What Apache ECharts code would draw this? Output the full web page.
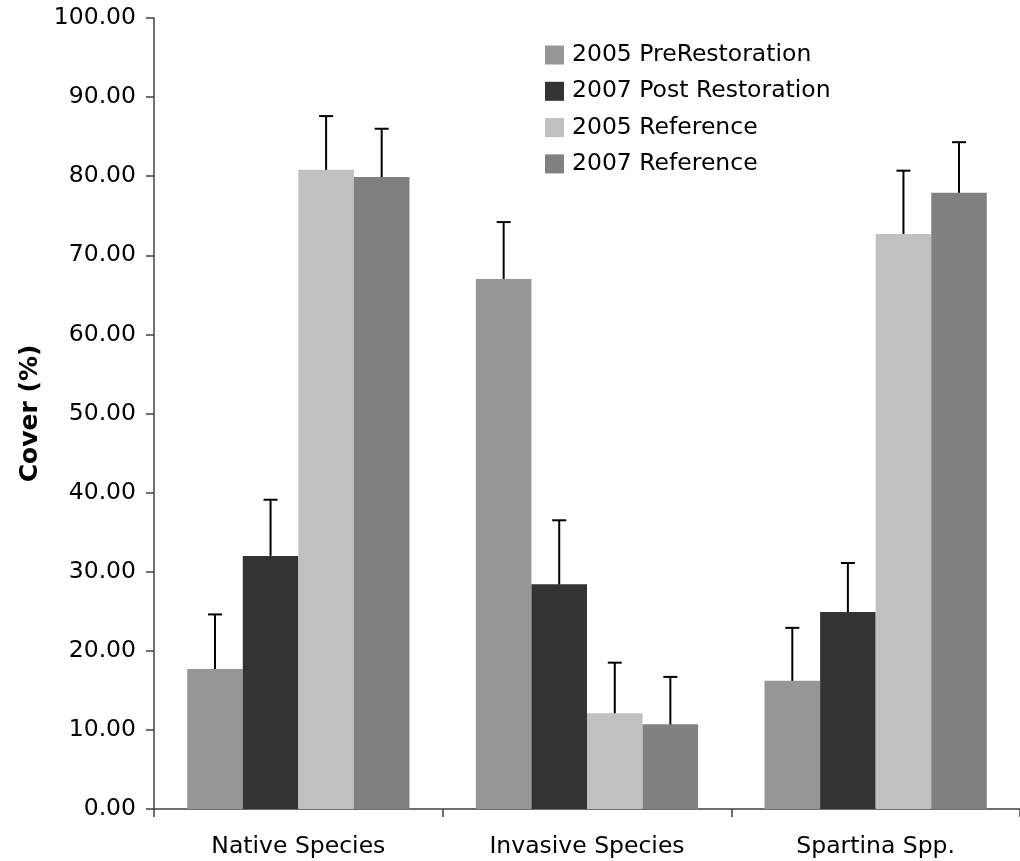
<!DOCTYPE html>
<html>
<head>
<meta charset="utf-8">
<script src="https://cdn.jsdelivr.net/npm/echarts@6/dist/echarts.min.js"></script>
<style>html,body{margin:0;padding:0;background:#fff}#c{width:1020px;height:861px}</style>
</head>
<body>
<div id="c"></div>
<script>
const categories = ['Native Species', 'Invasive Species', 'Spartina Spp.'];
const seriesNames = ['2005 PreRestoration', '2007 Post Restoration', '2005 Reference', '2007 Reference'];
const pre2005 = [17.7, 67.0, 16.2];
const post2007 = [32.0, 28.4, 24.9];
const ref2005 = [80.8, 12.1, 72.7];
const ref2007 = [79.9, 10.7, 77.9];
const pre2005Err = [6.9, 7.2, 6.7];
const post2007Err = [7.1, 8.1, 6.2];
const ref2005Err = [6.8, 6.4, 8.0];
const ref2007Err = [6.1, 6.0, 6.4];
const yTicks = [0, 10, 20, 30, 40, 50, 60, 70, 80, 90, 100];

const colors = ['#969696', '#333333', '#C0C0C0', '#808080'];
const values = [pre2005, post2007, ref2005, ref2007];
const errs = [pre2005Err, post2007Err, ref2005Err, ref2007Err];
const GAP = 0.23;
const FONT = 'DejaVu Sans';
const FS = 23.5;

const chart = echarts.init(document.getElementById('c'), null, {renderer: 'canvas'});

const series = [];
values.forEach((v, i) => {
  series.push({
    name: seriesNames[i], type: 'bar', data: v,
    itemStyle: {color: colors[i]},
    barGap: '0%', barCategoryGap: (GAP * 100) + '%',
    emphasis: {disabled: true}
  });
});
values.forEach((v, i) => {
  series.push({
    type: 'custom', name: 'err' + i, z: 10, silent: true,
    data: v.map((val, j) => [j, val, val + errs[i][j]]),
    renderItem: function (params, api) {
      const x = api.value(0);
      const base = api.coord([x, api.value(1)]);
      const top = api.coord([x, api.value(2)]);
      const band = api.size([1, 0])[0];
      const bw = band * (1 - GAP) / 4;
      const cx = base[0] + (i - 1.5) * bw;
      const half = 7;
      const style = {stroke: '#000', lineWidth: 2};
      return {
        type: 'group',
        children: [
          {type: 'line', shape: {x1: cx, y1: base[1], x2: cx, y2: top[1]}, style},
          {type: 'line', shape: {x1: cx - half, y1: top[1], x2: cx + half, y2: top[1]}, style}
        ]
      };
    }
  });
});

chart.setOption({
  animation: false,
  backgroundColor: '#fff',
  textStyle: {fontFamily: FONT},
  legend: {
    data: seriesNames,
    orient: 'vertical',
    left: 540, top: 38,
    itemWidth: 19, itemHeight: 19, itemGap: 12.3,
    icon: 'rect',
    textStyle: {fontFamily: FONT, fontSize: FS, color: '#000', padding: [0, 0, 0, 3]},
    selectedMode: false
  },
  grid: {left: 154, top: 18, width: 870, height: 791, containLabel: false},
  xAxis: {
    type: 'category', data: categories,
    axisLine: {lineStyle: {color: '#404040', width: 1.5}},
    axisTick: {show: true, length: 8, alignWithLabel: false, lineStyle: {color: '#404040', width: 1.5}},
    axisLabel: {fontFamily: FONT, fontSize: FS, color: '#000', margin: 26}
  },
  yAxis: {
    type: 'value', min: 0, max: 100, interval: 10,
    name: 'Cover (%)', nameLocation: 'middle', nameGap: 110,
    nameTextStyle: {fontFamily: FONT, fontSize: 25, fontWeight: 'bold', color: '#000'},
    axisLine: {show: true, lineStyle: {color: '#404040', width: 1.5}},
    axisTick: {show: true, length: 8, lineStyle: {color: '#404040', width: 1.5}},
    splitLine: {show: false},
    axisLabel: {fontFamily: FONT, fontSize: FS, color: '#000', margin: 18,
      formatter: v => yTicks.includes(v) ? v.toFixed(2) : ''}
  },
  series
});
</script>
</body>
</html>
